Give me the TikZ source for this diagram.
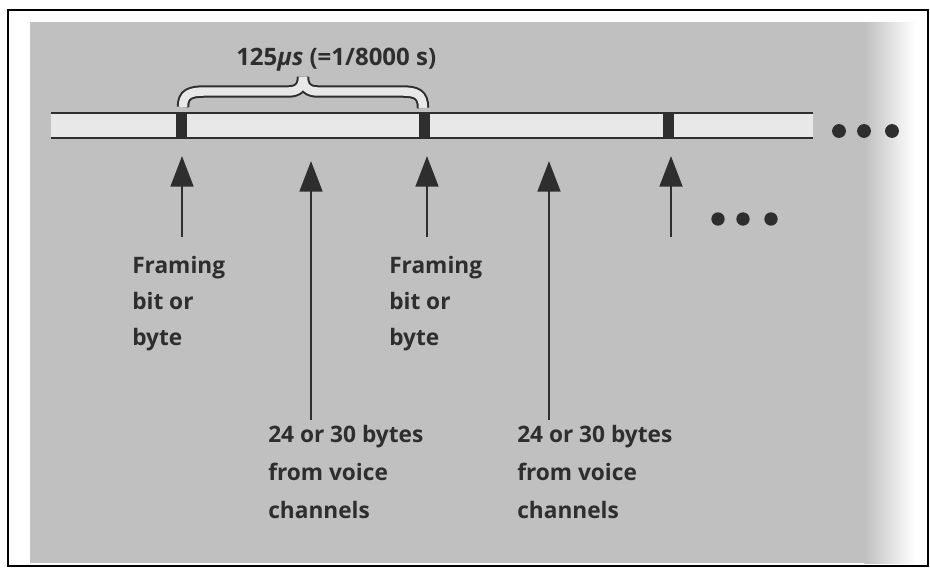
\documentclass[tikz,border=0pt]{standalone}
\usepackage{fontspec}
\setmainfont{Open Sans}
\usetikzlibrary{arrows.meta}
\definecolor{ink}{HTML}{2E2E2E}
\definecolor{paper}{HTML}{C0C0C0}
\definecolor{barfill}{HTML}{E8E8E8}
\tikzset{
  arr/.style={draw=ink, line width=2.2pt, -{Triangle[width=17pt,length=23pt]}},
  blk/.style={fill=ink, draw=none, minimum width=8.25pt, minimum height=18.75pt, inner sep=0pt},
  lbl/.style={text=ink, align=left, inner sep=0pt, anchor=north west, font=\fontsize{17}{27}\selectfont\bfseries},
  vlbl/.style={lbl, font=\fontsize{17}{28.5}\selectfont\bfseries},
  barline/.style={draw=ink, line width=2.2pt},
  dot/.style={fill=ink}
}
\begin{document}
\begin{tikzpicture}[x=0.75pt,y=-0.75pt]
\useasboundingbox (0,0) rectangle (930,569);
\fill[white] (0,0) rectangle (930,569);
\fill[paper] (30,22) rectangle (865,563);
\shade[left color=paper,right color=white] (864.5,22) rectangle (915,563);
\draw[line width=1.5pt] (8,10) rectangle (928,566);
% bar
\fill[barfill] (51,113) rectangle (813,138);
\coordinate (bl) at (51,113); \coordinate (br) at (813,113);
\coordinate (cl) at (51,138); \coordinate (cr) at (813,138);
\draw[barline] (bl) -- (br);
\draw[barline] (cl) -- (cr);
\node[blk] (f1) at (181.5,125.5) {};
\node[blk] (f2) at (424,125.5) {};
\node[blk] (f3) at (668.5,125.5) {};
% dots
\fill[dot] (839,131) circle (5.2pt);
\fill[dot] (864,131) circle (5.2pt);
\fill[dot] (892,131) circle (5.2pt);
\fill[dot] (718,219) circle (5pt);
\fill[dot] (743,219) circle (5pt);
\fill[dot] (771,219) circle (5pt);
% brace
\draw[ink, line width=1.5pt, double=barfill, double distance=6.3pt]
  (183,107) .. controls (183,94) and (190,91.5) .. (205,91.5) -- (288,91.5)
  .. controls (298,91.5) and (303,87) .. (303,77)
  .. controls (303,87) and (308,91.5) .. (318,91.5) -- (402,91.5)
  .. controls (416,91.5) and (423,94) .. (423,108);
\node[anchor=base west, inner sep=0pt, text=ink, font=\fontsize{18}{21}\selectfont\bfseries] (per) at (236,65) {125\textit{μs} (=1/8000 s)};
% arrows
\coordinate (a1b) at (182,237); \coordinate (a1t) at (182,156);
\coordinate (a2b) at (427,237); \coordinate (a2t) at (427,156);
\coordinate (a3b) at (671,237); \coordinate (a3t) at (671,156);
\coordinate (v1b) at (311,420); \coordinate (v1t) at (311,161);
\coordinate (v2b) at (549,420); \coordinate (v2t) at (549,161);
\draw[arr] (a1b) -- (a1t);
\draw[arr] (a2b) -- (a2t);
\draw[arr] (a3b) -- (a3t);
\draw[arr] (v1b) -- (v1t);
\draw[arr] (v2b) -- (v2t);
% labels
\node[lbl] (fr1) at (132,256) {Framing\\bit or\\byte};
\node[lbl] (fr2) at (389,256) {Framing\\bit or\\byte};
\node[vlbl] (vc1) at (268,425) {24 or 30 bytes\\from voice\\channels};
\node[vlbl] (vc2) at (517,425) {24 or 30 bytes\\from voice\\channels};
\end{tikzpicture}
\end{document}
